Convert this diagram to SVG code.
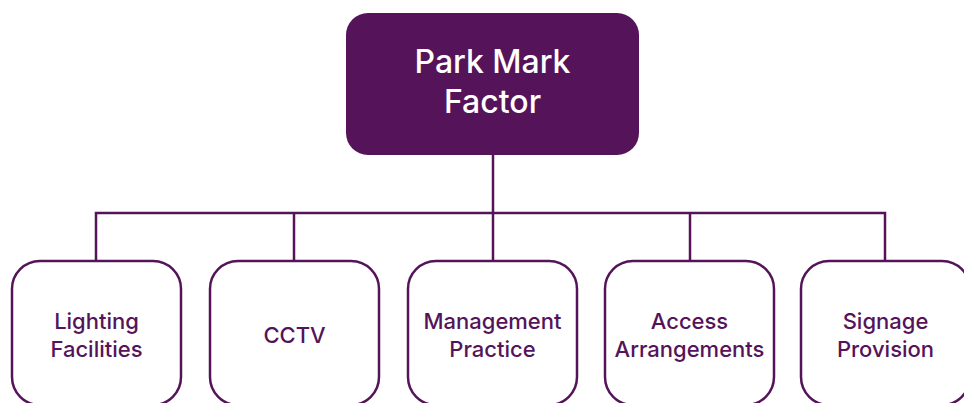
<svg xmlns="http://www.w3.org/2000/svg" width="964" height="403" viewBox="0 0 964 403">
  <style>
    .root-box { fill: #55145A; }
    .child-box { fill: #FFFFFF; stroke: #55145A; stroke-width: 2.5; }
    .link { fill: none; stroke: #55145A; stroke-width: 2.5; }
    .root-label { font-family: Inter, "Noto Sans", sans-serif; font-size: 32px; font-weight: 500; fill: #FFFFFF; text-anchor: middle; }
    .child-label { font-family: Inter, "Noto Sans", sans-serif; font-size: 22px; font-weight: 500; fill: #55145A; text-anchor: middle; }
  </style>
  <rect width="964" height="403" fill="#FFFFFF"/>

  <!-- tree connectors -->
  <g id="connectors">
    <path class="link" d="M493,155 V213"/>
    <path class="link" d="M96,261 V213 H885 V261"/>
    <path class="link" d="M294,213 V261"/>
    <path class="link" d="M493,213 V261"/>
    <path class="link" d="M690,213 V261"/>
  </g>

  <g id="park-mark-factor">
    <rect class="root-box" x="346" y="13" width="293" height="142" rx="22"/>
    <text class="root-label" x="492.5" y="73">Park Mark</text>
    <text class="root-label" x="492.5" y="113">Factor</text>
  </g>

  <g id="lighting-facilities">
    <rect class="child-box" x="12" y="261" width="169" height="144" rx="28"/>
    <text class="child-label" x="96.5" y="329">Lighting</text>
    <text class="child-label" x="96.5" y="357">Facilities</text>
  </g>

  <g id="cctv">
    <rect class="child-box" x="210" y="261" width="169" height="144" rx="28"/>
    <text class="child-label" x="294.5" y="343">CCTV</text>
  </g>

  <g id="management-practice">
    <rect class="child-box" x="408" y="261" width="169" height="144" rx="28"/>
    <text class="child-label" x="492.5" y="329">Management</text>
    <text class="child-label" x="492.5" y="357">Practice</text>
  </g>

  <g id="access-arrangements">
    <rect class="child-box" x="605" y="261" width="169" height="144" rx="28"/>
    <text class="child-label" x="689.5" y="329">Access</text>
    <text class="child-label" x="689.5" y="357">Arrangements</text>
  </g>

  <g id="signage-provision">
    <rect class="child-box" x="801" y="261" width="169" height="144" rx="28"/>
    <text class="child-label" x="885.5" y="329">Signage</text>
    <text class="child-label" x="885.5" y="357">Provision</text>
  </g>
</svg>
